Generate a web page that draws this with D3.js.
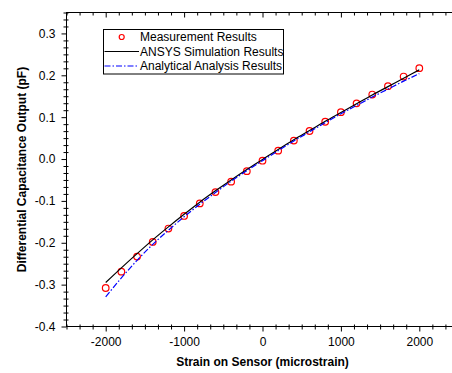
<!DOCTYPE html>
<html>
<head>
<meta charset="utf-8">
<script src="https://cdn.jsdelivr.net/npm/d3@7"></script>
<style>
  html, body { margin: 0; padding: 0; background: #fff; }
  svg { display: block; font-family: Arial, "Liberation Sans", sans-serif; }
  .axis text { font-size: 12px; fill: #000; }
</style>
</head>
<body>
<div id="chart"></div>
<script>
/* Differential capacitance vs strain */

const strain = [-2000, -1800, -1600, -1400, -1200, -1000, -800, -600, -400, -200,
  0, 200, 400, 600, 800, 1000, 1200, 1400, 1600, 1800, 2000];

const measured = [-0.308, -0.269, -0.233, -0.198, -0.166, -0.136, -0.106, -0.079, -0.054, -0.029,
  -0.004, 0.020, 0.044, 0.067, 0.089, 0.112, 0.133, 0.154, 0.174, 0.197, 0.217];

const ansys = [-0.295, -0.260, -0.226, -0.193, -0.162, -0.132, -0.103, -0.076, -0.050, -0.025,
  -0.001, 0.023, 0.046, 0.068, 0.090, 0.111, 0.132, 0.153, 0.173, 0.193, 0.213];

const analytical = [-0.329, -0.284, -0.242, -0.204, -0.170, -0.138, -0.108, -0.080, -0.053, -0.028,
  -0.004, 0.020, 0.043, 0.065, 0.087, 0.108, 0.128, 0.148, 0.167, 0.186, 0.204];

const xTicks = [-2000, -1000, 0, 1000, 2000];
const yTicks = [-0.4, -0.3, -0.2, -0.1, 0.0, 0.1, 0.2, 0.3];

const legendItems = ['Measurement Results', 'ANSYS Simulation Results', 'Analytical Analysis Results'];

/* ── Layout ────────────────────────────────────────────────────────── */

const W = 452, H = 373;
const mLeft = 66.5, mRight = 458.5, mTop = 12.5, mBottom = 326.5;

const svg = d3.select('#chart').append('svg')
  .attr('width', W)
  .attr('height', H);

const x = d3.scaleLinear().domain([-2500, 2500]).range([mLeft, mRight]);
const y = d3.scaleLinear().domain([-0.4, 0.35]).range([mBottom, mTop]);

// minor ticks: 5 between majors
const xMinor = d3.range(-15, 16).filter(i => i % 6 !== 0).map(i => i * 1000 / 6);
const yMinor = d3.range(-24, 22).filter(i => i % 6 !== 0).map(i => i * 0.1 / 6);

/* ── Axes ──────────────────────────────────────────────────────────── */

function styleMinor(g, a, b, horiz) {
  g.select('.domain').remove();
  g.selectAll('.tick line')
    .attr(horiz ? 'y1' : 'x1', a)
    .attr(horiz ? 'y2' : 'x2', b)
    .attr('stroke', '#000');
  g.selectAll('.tick text').remove();
}

// bottom
svg.append('g').attr('class', 'axis')
  .attr('transform', `translate(0,${mBottom})`)
  .call(d3.axisBottom(x).tickValues(xTicks).tickSize(5).tickPadding(6).tickFormat(d3.format('d')))
  .call(g => g.select('.domain').remove());
svg.append('g').attr('transform', `translate(0,${mBottom})`)
  .call(d3.axisBottom(x).tickValues(xMinor).tickFormat(''))
  .call(g => styleMinor(g, -2, 3, true));

// top (inward)
svg.append('g').attr('transform', `translate(0,${mTop})`)
  .call(d3.axisTop(x).tickValues(xTicks).tickSize(-5).tickFormat(''))
  .call(g => g.select('.domain').remove());
svg.append('g').attr('transform', `translate(0,${mTop})`)
  .call(d3.axisTop(x).tickValues(xMinor).tickFormat(''))
  .call(g => styleMinor(g, 0, 3, true));

// left
svg.append('g').attr('class', 'axis')
  .attr('transform', `translate(${mLeft},0)`)
  .call(d3.axisLeft(y).tickValues(yTicks).tickSize(5).tickPadding(6).tickFormat(d3.format('.1f')))
  .call(g => g.select('.domain').remove());
svg.append('g').attr('transform', `translate(${mLeft},0)`)
  .call(d3.axisLeft(y).tickValues(yMinor).tickFormat(''))
  .call(g => styleMinor(g, -3, 2, false));

// right (inward)
svg.append('g').attr('transform', `translate(${mRight},0)`)
  .call(d3.axisRight(y).tickValues(yTicks).tickSize(-5).tickFormat(''))
  .call(g => g.select('.domain').remove());
svg.append('g').attr('transform', `translate(${mRight},0)`)
  .call(d3.axisRight(y).tickValues(yMinor).tickFormat(''))
  .call(g => styleMinor(g, 0, -3, false));

// reference uses plain hyphen for minus
svg.selectAll('.axis .tick text').text(function () { return this.textContent.replace('−', '-'); });

// frame
svg.append('rect')
  .attr('x', mLeft).attr('y', mTop)
  .attr('width', mRight - mLeft).attr('height', mBottom - mTop)
  .attr('fill', 'none').attr('stroke', '#000').attr('stroke-width', 1);

/* ── Titles ────────────────────────────────────────────────────────── */

svg.append('text')
  .attr('x', x(0)).attr('y', 366)
  .attr('text-anchor', 'middle')
  .attr('font-size', 12).attr('font-weight', 'bold')
  .text('Strain on Sensor (microstrain)');

svg.append('text')
  .attr('transform', `translate(26,${(mTop + mBottom) / 2}) rotate(-90)`)
  .attr('text-anchor', 'middle')
  .attr('font-size', 12).attr('font-weight', 'bold')
  .text('Differential Capacitance Output (pF)');

/* ── Series ────────────────────────────────────────────────────────── */

const plot = svg.append('g');

plot.append('g')
  .selectAll('circle')
  .data(strain)
  .join('circle')
  .attr('cx', d => x(d))
  .attr('cy', (d, i) => y(measured[i]))
  .attr('r', 3.3)
  .attr('fill', 'none')
  .attr('stroke', '#ff0000')
  .attr('stroke-width', 1.2);

const line = d3.line().curve(d3.curveMonotoneX);

plot.append('path')
  .attr('d', line(strain.map((s, i) => [x(s), y(ansys[i])])))
  .attr('fill', 'none')
  .attr('stroke', '#000')
  .attr('stroke-width', 1.2);

plot.append('path')
  .attr('d', line(strain.map((s, i) => [x(s), y(analytical[i])])))
  .attr('fill', 'none')
  .attr('stroke', '#0000ff')
  .attr('stroke-width', 1.2)
  .attr('stroke-dasharray', '6,2,1.5,2');

/* ── Legend ────────────────────────────────────────────────────────── */

const legend = svg.append('g');
legend.append('rect')
  .attr('x', 103.5).attr('y', 29.5)
  .attr('width', 180).attr('height', 44.5)
  .attr('fill', '#fff').attr('stroke', '#000');

const rowY = [37, 51.5, 66];
legendItems.forEach((label, i) => {
  legend.append('text')
    .attr('x', 140).attr('y', rowY[i])
    .attr('dy', '0.35em')
    .attr('font-size', 12)
    .text(label);
});

legend.append('circle')
  .attr('cx', 121.7).attr('cy', rowY[0])
  .attr('r', 2.5)
  .attr('fill', 'none').attr('stroke', '#ff0000').attr('stroke-width', 1.2);

legend.append('line')
  .attr('x1', 104.5).attr('x2', 139).attr('y1', rowY[1]).attr('y2', rowY[1])
  .attr('stroke', '#000').attr('stroke-width', 1.2);

legend.append('line')
  .attr('x1', 104.5).attr('x2', 139).attr('y1', rowY[2]).attr('y2', rowY[2])
  .attr('stroke', '#0000ff').attr('stroke-width', 1.2)
  .attr('stroke-dasharray', '6,2,1.5,2');
</script>
</body>
</html>
